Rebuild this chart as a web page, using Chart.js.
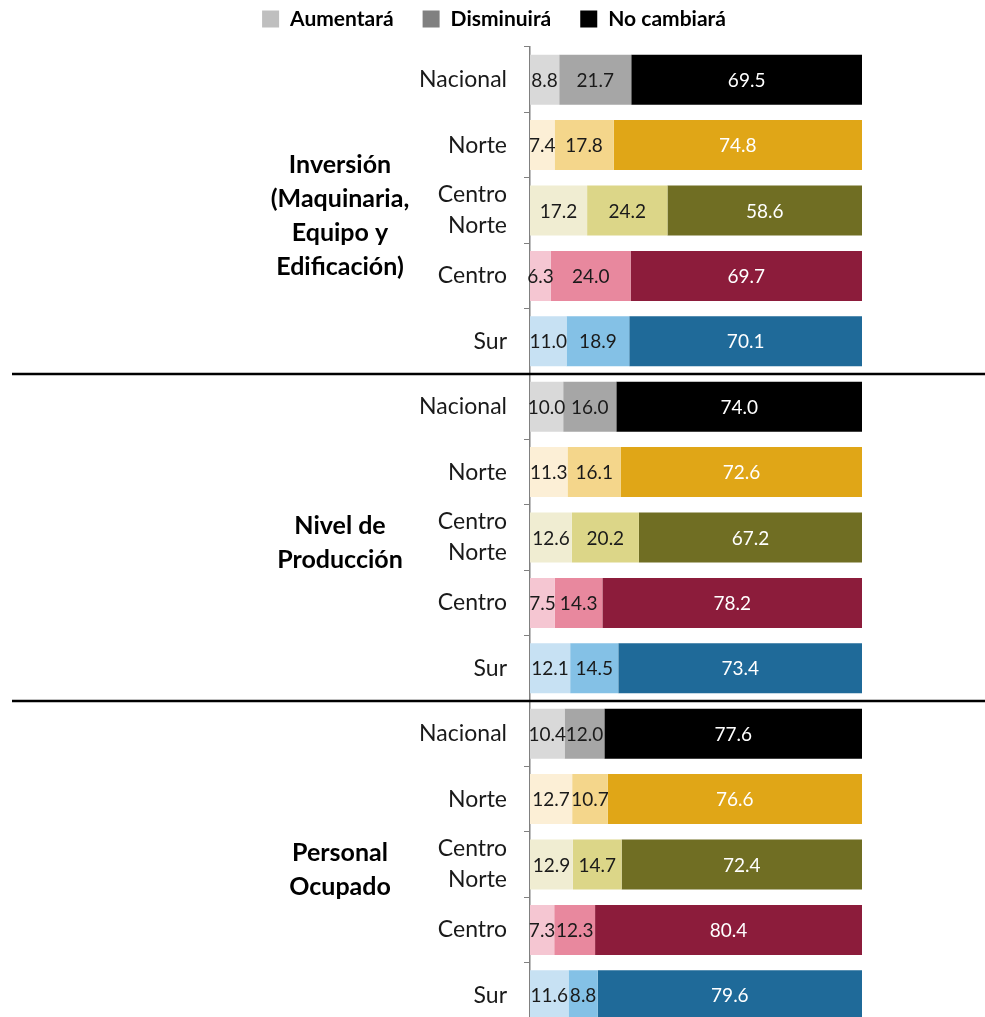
<!DOCTYPE html>
<html>
<head>
<meta charset="utf-8">
<script src="https://cdn.jsdelivr.net/npm/chart.js@4.4.0/dist/chart.umd.min.js"></script>
<style>
  html, body { margin: 0; padding: 0; background: #fff; overflow: hidden; }
  #wrap { width: 985px; height: 1040px; }
</style>
</head>
<body>
<div id="wrap"><canvas id="chart" width="985" height="1040"></canvas></div>
<script>
// regiones y grupos
var regions = ["Nacional", "Norte", ["Centro", "Norte"], "Centro", "Sur"];
var groups = [
  ["Inversión", "(Maquinaria,", "Equipo y", "Edificación)"],
  ["Nivel de", "Producción"],
  ["Personal", "Ocupado"]
];
var seriesNames = ["Aumentará", "Disminuirá", "No cambiará"];

// valores (%), 5 regiones por grupo
var aumentara  = [8.8, 7.4, 17.2, 6.3, 11.0,   10.0, 11.3, 12.6, 7.5, 12.1,   10.4, 12.7, 12.9, 7.3, 11.6];
var disminuira = [21.7, 17.8, 24.2, 24.0, 18.9, 16.0, 16.1, 20.2, 14.3, 14.5,  12.0, 10.7, 14.7, 12.3, 8.8];
var noCambiara = [69.5, 74.8, 58.6, 69.7, 70.1, 74.0, 72.6, 67.2, 78.2, 73.4,  77.6, 76.6, 72.4, 80.4, 79.6];

// colores por region: claro, medio, oscuro
var regionColors = [
  ["#D9D9D9", "#A6A6A6", "#000000"],
  ["#FCEFD6", "#F4D68B", "#E0A617"],
  ["#F0EDD2", "#DCD688", "#706E23"],
  ["#F5C6D2", "#E8889E", "#8C1C3B"],
  ["#C7E1F3", "#84C1E6", "#1F6A99"]
];
var legendColors = ["#BFBFBF", "#808080", "#000000"];

var labels = [];
groups.forEach(function(){ regions.forEach(function(r){ labels.push(r); }); });

function colorsFor(k) {
  return labels.map(function(l, i){ return regionColors[i % 5][k]; });
}

var font = "Lato";

var barLabels = {
  id: "barLabels",
  afterDatasetsDraw: function(chart) {
    var ctx = chart.ctx;
    ctx.save();
    ctx.font = "19px " + font;
    ctx.textAlign = "center";
    ctx.textBaseline = "middle";
    chart.data.datasets.forEach(function(ds, i){
      var meta = chart.getDatasetMeta(i);
      meta.data.forEach(function(bar, j){
        ctx.fillStyle = i == 2 ? "#ffffff" : "#1a1a1a";
        ctx.fillText(ds.data[j].toFixed(1), (bar.x + bar.base) / 2, bar.y + 1);
      });
    });
    ctx.restore();
  }
};

var groupDecor = {
  id: "groupDecor",
  afterDraw: function(chart) {
    var ctx = chart.ctx;
    var y = chart.scales.y;
    ctx.save();
    // lineas separadoras
    ctx.strokeStyle = "#000";
    ctx.lineWidth = 2.5;
    [4, 9].forEach(function(i){
      var py = (y.getPixelForValue(i) + y.getPixelForValue(i + 1)) / 2;
      ctx.beginPath();
      ctx.moveTo(12, py);
      ctx.lineTo(chart.width, py);
      ctx.stroke();
    });
    // nombres de grupo
    ctx.fillStyle = "#000";
    ctx.font = "bold 25px " + font;
    ctx.textAlign = "center";
    ctx.textBaseline = "middle";
    groups.forEach(function(g, gi){
      var cy = y.getPixelForValue(gi * 5 + 2) + 5;
      var lh = 34;
      g.forEach(function(line, li){
        ctx.fillText(line, 340, cy + (li - (g.length - 1) / 2) * lh);
      });
    });

    // leyenda
    ctx.font = "bold 21px " + font;
    ctx.textAlign = "left";
    var box = 17, gapText = 11, gapItem = 29;
    var total = 0;
    seriesNames.forEach(function(n, i){
      total += box + gapText + ctx.measureText(n).width + (i < 2 ? gapItem : 0);
    });
    var x = 494 - total / 2, ly = 19;
    seriesNames.forEach(function(n, i){
      ctx.fillStyle = legendColors[i];
      ctx.fillRect(x, ly - box / 2, box, box);
      ctx.fillStyle = "#000";
      ctx.fillText(n, x + box + gapText, ly);
      x += box + gapText + ctx.measureText(n).width + gapItem;
    });
    ctx.restore();
  }
};

new Chart(document.getElementById("chart"), {
  type: "bar",
  data: {
    labels: labels,
    datasets: [
      { label: seriesNames[0], data: aumentara, backgroundColor: colorsFor(0) },
      { label: seriesNames[1], data: disminuira, backgroundColor: colorsFor(1) },
      { label: seriesNames[2], data: noCambiara, backgroundColor: colorsFor(2) }
    ]
  },
  options: {
    indexAxis: "y",
    responsive: false,
    animation: false,
    categoryPercentage: 1,
    barPercentage: 0.765,
    layout: { padding: { top: 0, right: 123, bottom: 0, left: 0 } },
    scales: {
      x: { stacked: true, min: 0, max: 100, display: false },
      y: {
        stacked: true,
        afterFit: function(scale){
          scale.width = 530;
          scale.paddingTop = 47;
          scale.paddingBottom = 12;
        },
        grid: { offset: true, drawOnChartArea: false, tickLength: 6, color: "#808080" },
        border: { color: "#808080", width: 1.5 },
        ticks: { color: "#1a1a1a", padding: 17, font: { family: font, size: 23, lineHeight: 1.35 } }
      }
    },
    plugins: {
      tooltip: { enabled: false },
      legend: { display: false }
    }
  },
  plugins: [barLabels, groupDecor]
});
</script>
</body>
</html>
